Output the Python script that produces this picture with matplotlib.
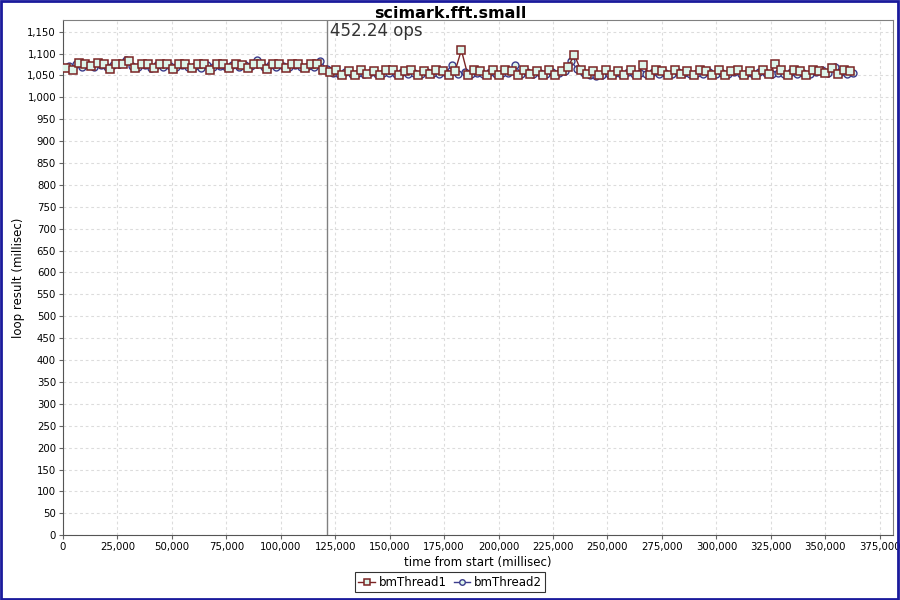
import matplotlib
matplotlib.use("Agg")
import matplotlib.pyplot as plt
from matplotlib.ticker import FuncFormatter, MultipleLocator
from matplotlib.patches import Rectangle
import numpy as np

# time from start (seconds) and loop results (millisec), bmThread1
t1_sec = [1.5, 4.4, 7.3, 10.1, 13.0, 15.9, 18.8, 21.7, 24.5, 27.4,
          30.3, 33.2, 36.1, 38.9, 41.8, 44.7, 47.6, 50.5, 53.3, 56.2,
          59.1, 62.0, 64.9, 67.7, 70.6, 73.5, 76.4, 79.3, 82.1, 85.0,
          87.9, 90.8, 93.7, 96.5, 99.4, 102.3, 105.2, 108.1, 110.9, 113.8,
          116.7, 119.6,
          122.5, 125.3, 128.2, 131.1, 134.0, 136.9, 139.7, 142.6, 145.5, 148.4,
          151.3, 154.1, 157.0, 159.9, 162.8, 165.7, 168.5, 171.4, 174.3, 177.2,
          180.1, 182.9, 185.8, 188.7, 191.6, 194.5, 197.3, 200.2, 203.1, 206.0,
          208.9, 211.7, 214.6, 217.5, 220.4, 223.3, 226.1, 229.0, 231.9, 234.8,
          237.7, 240.5, 243.4, 246.3, 249.2, 252.1, 254.9, 257.8, 260.7, 263.6,
          266.5, 269.3, 272.2, 275.1, 278.0, 280.9, 283.7, 286.6, 289.5, 292.4,
          295.3, 298.1, 301.0, 303.9, 306.8, 309.7, 312.5, 315.4, 318.3, 321.2,
          324.1, 326.9, 329.8, 332.7, 335.6, 338.5, 341.3, 344.2, 347.1, 350.0,
          352.9, 355.7, 358.6, 361.5]
v1 = [1068, 1062, 1078, 1076, 1071, 1079, 1077, 1064, 1075, 1076,
      1082, 1068, 1076, 1077, 1066, 1075, 1076, 1065, 1077, 1075,
      1066, 1076, 1075, 1063, 1077, 1076, 1066, 1077, 1074, 1066,
      1076, 1077, 1065, 1076, 1075, 1066, 1077, 1075, 1066, 1076,
      1077, 1062,
      1058, 1062, 1052, 1061, 1052, 1062, 1053, 1061, 1052, 1063,
      1062, 1052, 1061, 1063, 1052, 1061, 1053, 1062, 1061, 1052,
      1061, 1108, 1052, 1062, 1061, 1052, 1062, 1050, 1062, 1061,
      1052, 1062, 1053, 1061, 1052, 1062, 1052, 1061, 1070, 1097,
      1062, 1053, 1061, 1050, 1062, 1051, 1061, 1052, 1062, 1052,
      1073, 1052, 1062, 1061, 1052, 1062, 1053, 1061, 1052, 1062,
      1061, 1052, 1062, 1052, 1061, 1062, 1052, 1061, 1052, 1062,
      1053, 1075, 1062, 1052, 1063, 1061, 1052, 1062, 1061, 1055,
      1068, 1053, 1062, 1060]

# bmThread2
t2_sec = [2.9, 5.8, 8.7, 11.5, 14.4, 17.3, 20.2, 23.1, 25.9, 28.8,
          31.7, 34.6, 37.5, 40.3, 43.2, 46.1, 49.0, 51.9, 54.7, 57.6,
          60.5, 63.4, 66.3, 69.1, 72.0, 74.9, 77.8, 80.7, 83.5, 86.4,
          89.3, 92.2, 95.1, 97.9, 100.8, 103.7, 106.6, 109.5, 112.3, 115.2,
          118.1, 121.0,
          123.9, 126.8, 129.6, 132.5, 135.4, 138.3, 141.2, 144.0, 146.9, 149.8,
          152.7, 155.6, 158.4, 161.3, 164.2, 167.1, 170.0, 172.8, 175.7, 178.6,
          181.5, 184.4, 187.2, 190.1, 193.0, 195.9, 198.8, 201.6, 204.5, 207.4,
          210.3, 213.2, 216.0, 218.9, 221.8, 224.7, 227.6, 230.4, 233.3, 236.2,
          239.1, 242.0, 244.8, 247.7, 250.6, 253.5, 256.4, 259.2, 262.1, 265.0,
          267.9, 270.8, 273.6, 276.5, 279.4, 282.3, 285.2, 288.0, 290.9, 293.8,
          296.7, 299.6, 302.4, 305.3, 308.2, 311.1, 314.0, 316.8, 319.7, 322.6,
          325.5, 328.4, 331.2, 334.1, 337.0, 339.9, 342.8, 345.6, 348.5, 351.4,
          354.3, 357.2, 360.0, 362.9]
v2 = [1072, 1076, 1070, 1074, 1069, 1073, 1070, 1074, 1076, 1086,
      1072, 1070, 1074, 1068, 1073, 1070, 1072, 1069, 1074, 1070,
      1072, 1068, 1073, 1070, 1072, 1069, 1074, 1070, 1073, 1071,
      1086, 1069, 1073, 1070, 1072, 1069, 1074, 1070, 1072, 1070,
      1083, 1064,
      1056, 1054, 1057, 1053, 1056, 1054, 1057, 1053, 1056, 1055,
      1054, 1057, 1053, 1056, 1054, 1057, 1055, 1053, 1056, 1074,
      1054, 1057, 1053, 1056, 1054, 1057, 1053, 1056, 1055, 1074,
      1054, 1057, 1053, 1056, 1054, 1057, 1055, 1060, 1082, 1064,
      1055, 1050, 1049, 1051, 1054, 1056, 1053, 1057, 1054, 1056,
      1053, 1057, 1054, 1056, 1053, 1057, 1055, 1054, 1056, 1053,
      1057, 1054, 1056, 1053, 1057, 1054, 1056, 1053, 1057, 1055,
      1054, 1056, 1053, 1057, 1054, 1056, 1053, 1058, 1062, 1056,
      1070, 1058, 1054, 1056]

marker_line_ms = 121200
ops_label = "452.24 ops"
title = "scimark.fft.small"

t1 = np.array(t1_sec) * 1000
t2 = np.array(t2_sec) * 1000

fig = plt.figure(figsize=(9, 6), dpi=100)
ax = fig.add_axes([0.07, 0.108, 0.922, 0.859])

mint = "#ddf5ea"
ax.plot(t2, v2, color="#3c3c8c", lw=1, marker="o", ms=5, mfc=mint,
        mec="#3c3c8c", mew=1, label="bmThread2", zorder=3)
ax.plot(t1, v1, color="#7b2424", lw=1, marker="s", ms=6.2, mfc=mint,
        mec="#7b2424", mew=1.1, label="bmThread1", zorder=4)

ax.axvline(marker_line_ms, color="#808080", lw=1, zorder=2)
ax.text(marker_line_ms + 1200, 1172, ops_label, fontsize=12, color="#333333",
        va="top", ha="left")

ax.set_xlim(0, 381000)
ax.set_ylim(0, 1177)
ax.xaxis.set_major_locator(MultipleLocator(25000))
ax.yaxis.set_major_locator(MultipleLocator(50))
fmt = FuncFormatter(lambda v, p: f"{int(v):,}")
ax.xaxis.set_major_formatter(fmt)
ax.yaxis.set_major_formatter(fmt)
ax.tick_params(labelsize=7.3, length=3, color="#666666", direction="out", pad=2)
ax.grid(True, color="#dcdcdc", ls=(0, (2.5, 2.5)), lw=0.8)
ax.set_axisbelow(True)
for s in ax.spines.values():
    s.set_color("#808080")
ax.spines["left"].set_color("#555555")
ax.spines["bottom"].set_color("#555555")

ax.set_xlabel("time from start (millisec)", fontsize=8.5, labelpad=3)
ax.set_ylabel("loop result (millisec)", fontsize=8.5, labelpad=2)
fig.suptitle(title, fontsize=11.5, fontweight="bold", y=0.99)

h, l = ax.get_legend_handles_labels()
leg = fig.legend(h[::-1], l[::-1], loc="lower center", bbox_to_anchor=(0.5, 0.003),
                 ncol=2, fontsize=8.5, frameon=True, fancybox=False,
                 handlelength=1.4, handletextpad=0.3, columnspacing=0.6,
                 borderpad=0.3, markerscale=0.8)
leg.get_frame().set_edgecolor("black")
leg.get_frame().set_linewidth(0.8)

fig.patches.append(Rectangle((0.001, 0.001), 0.997, 0.997, transform=fig.transFigure,
                             fill=False, edgecolor="#1a1a9c", lw=2))

fig.savefig("out.png", dpi=100)
